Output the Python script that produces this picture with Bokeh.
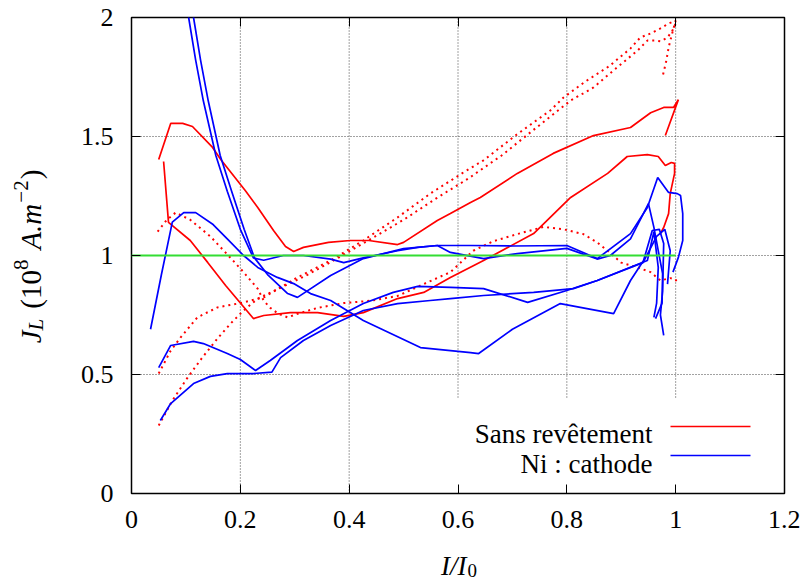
import math
from bokeh.plotting import figure
from bokeh.layouts import row, column
from bokeh.models import Range1d, LinearAxis, FixedTicker, CustomJSTickFormatter, Label
from bokeh.embed import file_html
from bokeh.resources import INLINE

# ---------------- data ----------------
x_ticks = [0, 0.2, 0.4, 0.6, 0.8, 1, 1.2]
x_tick_labels = ["0", "0.2", "0.4", "0.6", "0.8", "1", "1.2"]
y_ticks = [0, 0.5, 1, 1.5, 2]
y_tick_labels = ["0", "0.5", "1", "1.5", "2"]
grid_x = [0.2, 0.4, 0.6, 0.8, 1.0]
grid_y = [0.5, 1.0, 1.5]

red_solid_1_x = [0.050, 0.072, 0.094, 0.112, 0.149, 0.164, 0.209, 0.232, 0.261, 0.283, 0.298, 0.316, 0.362, 0.402, 0.436,
                 0.489, 0.500, 0.562, 0.586, 0.623, 0.641, 0.709, 0.775, 0.849, 0.917, 0.954, 0.978, 0.996, 1.005, 0.981]
red_solid_1_y = [1.403, 1.555, 1.555, 1.542, 1.454, 1.403, 1.273, 1.202, 1.105, 1.038, 1.017, 1.034, 1.055, 1.063, 1.063,
                 1.046, 1.055, 1.147, 1.176, 1.223, 1.244, 1.345, 1.429, 1.504, 1.538, 1.600, 1.622, 1.622, 1.655, 1.504]

red_solid_2_x = [0.059, 0.068, 0.108, 0.140, 0.173, 0.224, 0.243, 0.292, 0.342, 0.390, 0.426, 0.489, 0.537, 0.586, 0.647,
                 0.739, 0.807, 0.875, 0.911, 0.948, 0.968, 0.981, 0.992, 0.998, 0.998, 0.990, 0.987, 0.978, 0.972]
red_solid_2_y = [1.395, 1.139, 1.063, 0.971, 0.874, 0.735, 0.748, 0.760, 0.760, 0.744, 0.760, 0.819, 0.845, 0.908, 0.979,
                 1.092, 1.244, 1.345, 1.416, 1.424, 1.416, 1.378, 1.391, 1.387, 1.345, 1.260, 1.176, 1.118, 1.092]

red_dot_1_x = [0.048, 0.065, 0.081, 0.108, 0.145, 0.182, 0.206, 0.232, 0.243, 0.255, 0.270, 0.287, 0.305, 0.342, 0.390,
               0.440, 0.489, 0.537, 0.586, 0.628, 0.665, 0.709, 0.757, 0.794, 0.830, 0.856, 0.880, 0.900, 0.930, 0.954,
               0.972, 0.990, 1.000, 1.003]
red_dot_1_y = [1.100, 1.150, 1.180, 1.150, 1.080, 0.990, 0.930, 0.860, 0.810, 0.780, 0.755, 0.740, 0.755, 0.780, 0.800,
               0.810, 0.830, 0.880, 0.930, 1.020, 1.060, 1.090, 1.120, 1.110, 1.090, 1.055, 1.010, 0.970, 0.950, 0.930,
               0.895, 0.905, 0.900, 0.880]

red_dot_2_x = [0.050, 0.072, 0.090, 0.121, 0.158, 0.200, 0.243, 0.305, 0.366, 0.426, 0.489, 0.549, 0.610, 0.647, 0.709,
               0.770, 0.794, 0.834, 0.877, 0.917, 0.935, 0.954, 0.972, 0.987, 1.000, 0.994, 0.987, 0.983, 0.976]
red_dot_2_y = [0.504, 0.600, 0.655, 0.740, 0.782, 0.800, 0.824, 0.908, 0.979, 1.063, 1.160, 1.260, 1.349, 1.400, 1.510,
               1.610, 1.664, 1.731, 1.794, 1.870, 1.916, 1.933, 1.954, 1.975, 1.987, 1.937, 1.874, 1.820, 1.752]

red_dot_3_x = [0.050, 0.075, 0.103, 0.130, 0.158, 0.182, 0.206, 0.232, 0.270, 0.320, 0.380, 0.440, 0.500, 0.560, 0.620,
               0.680, 0.740, 0.807, 0.849, 0.889, 0.930, 0.948, 0.963, 0.972, 0.985, 0.994, 1.000]
red_dot_3_y = [0.286, 0.390, 0.487, 0.571, 0.651, 0.714, 0.769, 0.819, 0.860, 0.915, 0.990, 1.070, 1.150, 1.240, 1.325,
               1.420, 1.530, 1.651, 1.706, 1.784, 1.861, 1.903, 1.903, 1.900, 1.916, 1.945, 1.975]

blue_1_x = [0.100, 0.105, 0.118, 0.132, 0.155, 0.176, 0.200, 0.224, 0.243, 0.279, 0.316, 0.366, 0.390, 0.426, 0.489,
            0.526, 0.562, 0.623, 0.700, 0.800, 0.856, 0.917, 0.948, 0.967, 0.987, 1.003, 1.009, 1.013, 1.013, 1.005, 0.995]
blue_1_y = [2.100, 2.000, 1.820, 1.650, 1.420, 1.270, 1.110, 0.990, 0.980, 1.000, 1.000, 0.985, 0.970, 0.990, 1.020,
            1.034, 1.042, 1.042, 1.040, 1.042, 0.987, 1.092, 1.202, 1.328, 1.265, 1.260, 1.252, 1.176, 1.063, 0.992, 0.930]

blue_2_x = [0.109, 0.114, 0.127, 0.141, 0.163, 0.184, 0.207, 0.226, 0.250, 0.287, 0.305, 0.366, 0.426, 0.500, 0.562,
            0.586, 0.647, 0.709, 0.800, 0.856, 0.880, 0.917, 0.950, 0.960, 0.969, 0.976, 0.975, 0.963]
blue_2_y = [2.100, 2.000, 1.820, 1.650, 1.420, 1.270, 1.110, 0.990, 0.920, 0.840, 0.824, 0.916, 0.987, 1.029, 1.042,
            1.013, 0.987, 1.008, 1.030, 0.985, 1.000, 1.070, 1.218, 1.118, 1.008, 0.924, 0.800, 0.735]

blue_3_x = [0.035, 0.055, 0.075, 0.096, 0.118, 0.150, 0.176, 0.206, 0.232, 0.268, 0.298, 0.329, 0.366, 0.426, 0.531,
            0.623, 0.638, 0.700, 0.788, 0.886, 0.917, 0.941, 0.957, 0.970, 0.978, 0.976, 0.972, 0.978]
blue_3_y = [0.690, 0.920, 1.140, 1.180, 1.180, 1.130, 1.070, 1.000, 0.950, 0.908, 0.882, 0.840, 0.811, 0.727, 0.613,
            0.592, 0.588, 0.690, 0.798, 0.756, 0.895, 0.979, 1.105, 1.110, 1.050, 0.850, 0.750, 0.664]

blue_4_x = [0.050, 0.072, 0.114, 0.132, 0.176, 0.200, 0.228, 0.255, 0.305, 0.366, 0.426, 0.481, 0.526, 0.586, 0.647,
            0.728, 0.800, 0.856, 0.948, 0.960, 0.968, 0.965, 0.960]
blue_4_y = [0.529, 0.622, 0.639, 0.630, 0.588, 0.563, 0.517, 0.559, 0.643, 0.727, 0.798, 0.845, 0.870, 0.866, 0.861,
            0.803, 0.853, 0.895, 0.979, 1.100, 0.950, 0.800, 0.740]

blue_5_x = [0.053, 0.072, 0.114, 0.145, 0.176, 0.224, 0.258, 0.274, 0.316, 0.366, 0.426, 0.489, 0.549, 0.586, 0.647,
            0.739, 0.812, 0.856, 0.940, 0.965, 0.980, 0.990, 0.985]
blue_5_y = [0.307, 0.378, 0.462, 0.492, 0.504, 0.504, 0.510, 0.571, 0.643, 0.706, 0.769, 0.798, 0.811, 0.819, 0.832,
            0.845, 0.861, 0.895, 0.970, 1.080, 1.110, 1.020, 0.880]

ref_x = [0.0, 1.0]
ref_y = [1.0, 1.0]

legend_labels = ["Sans revêtement", "Ni : cathode"]

# ---------------- styling / layout ----------------
RED = "#ff0000"
BLUE = "#0000ff"
GREEN = "#33dd33"
FONT = "Liberation Serif"
X0, X1, Y0, Y1 = 0.0, 1.2, 0.0, 2.0
TOTAL_W, TOTAL_H = 800, 580
LAB_W = 60                 # strip holding the y-axis title
PLOT_H = 543               # main figure height; the rest holds the x-axis title
FRAME_L, FRAME_R, FRAME_T, FRAME_B = 131, 784, 17, 493
PXX = (FRAME_R - FRAME_L) / (X1 - X0)
PXY = (FRAME_B - FRAME_T) / (Y1 - Y0)


def dx(px):
    return X0 + (px - FRAME_L) / PXX


def dy(py):
    return Y0 + (FRAME_B - py) / PXY


p = figure(width=TOTAL_W - LAB_W, height=PLOT_H, output_backend="svg", toolbar_location=None,
           x_range=Range1d(X0, X1), y_range=Range1d(Y0, Y1))
p.min_border_left = FRAME_L - LAB_W
p.min_border_right = TOTAL_W - FRAME_R
p.min_border_top = FRAME_T
p.min_border_bottom = PLOT_H - FRAME_B
p.outline_line_color = "black"
p.outline_line_width = 1.5
p.background_fill_color = "white"
p.border_fill_color = "white"
p.grid.visible = False


def style_axis(ax, ticks, labels=None):
    ax.ticker = FixedTicker(ticks=ticks)
    ax.major_tick_in = 9
    ax.major_tick_out = 0
    ax.major_tick_line_color = "black"
    ax.major_tick_line_width = 1
    ax.minor_tick_line_color = None
    ax.axis_line_color = None
    if labels is None:
        ax.formatter = CustomJSTickFormatter(code="return '';")
        ax.major_label_text_font_size = "1px"
    else:
        ax.major_label_overrides = {t: l for t, l in zip(ticks, labels)}
        ax.major_label_text_font = FONT
        ax.major_label_text_font_size = "26px"
        ax.major_label_text_color = "black"


style_axis(p.xaxis[0], x_ticks, x_tick_labels)
p.xaxis[0].major_label_standoff = 17
style_axis(p.yaxis[0], y_ticks, y_tick_labels)
p.yaxis[0].major_label_standoff = 18

top_axis = LinearAxis()
style_axis(top_axis, x_ticks)
p.add_layout(top_axis, "above")
right_axis = LinearAxis()
style_axis(right_axis, y_ticks)
p.add_layout(right_axis, "right")

# grid (gnuplot blanks the grid behind the key box)
key_left, key_top = dx(455), dy(397)
p.segment(x0=grid_x, x1=grid_x, y0=[key_top if g > key_left else Y0 for g in grid_x], y1=[Y1] * len(grid_x),
          line_color="#444444", line_width=1, line_dash="1 2")
p.segment(x0=[X0] * len(grid_y), x1=[X1] * len(grid_y), y0=grid_y, y1=grid_y,
          line_color="#444444", line_width=1, line_dash="1 2")

LW = 1.7
for xs, ys in [(red_solid_1_x, red_solid_1_y), (red_solid_2_x, red_solid_2_y)]:
    p.line(xs, ys, line_color=RED, line_width=LW)
for xs, ys in [(red_dot_1_x, red_dot_1_y), (red_dot_2_x, red_dot_2_y), (red_dot_3_x, red_dot_3_y)]:
    p.line(xs, ys, line_color=RED, line_width=2, line_dash="2 4")
for xs, ys in [(blue_1_x, blue_1_y), (blue_2_x, blue_2_y), (blue_3_x, blue_3_y), (blue_4_x, blue_4_y),
               (blue_5_x, blue_5_y)]:
    p.line(xs, ys, line_color=BLUE, line_width=LW)
p.line(ref_x, ref_y, line_color=GREEN, line_width=2.2)

# key (text right-aligned, sample to the right, as gnuplot does)
key_text_x = dx(652)
key_rows = [(legend_labels[0], RED, 433, 426), (legend_labels[1], BLUE, 463, 455)]
for txt, col, base_py, line_py in key_rows:
    p.add_layout(Label(x=key_text_x, y=dy(base_py), text=txt, text_align="right", text_baseline="alphabetic",
                       text_font=FONT, text_font_size="27px", text_color="black"))
    p.line([dx(670), dx(750)], [dy(line_py), dy(line_py)], line_color=col, line_width=LW)


def strip(w, h, xr, yr):
    f = figure(width=w, height=h, output_backend="svg", toolbar_location=None,
               x_range=xr, y_range=yr, x_axis_location=None, y_axis_location=None,
               min_border=0, min_border_left=0, min_border_right=0, min_border_top=0, min_border_bottom=0)
    f.outline_line_color = None
    f.grid.visible = False
    f.background_fill_color = "white"
    f.border_fill_color = "white"
    return f


# x title: I/I_0 (strip below the main figure; its frame is aligned with the main frame)
XS_H = TOTAL_H - PLOT_H
xs_fig = strip(TOTAL_W - LAB_W, XS_H, Range1d(X0, X1), Range1d(0, XS_H))
xt_join = dx(466)
xs_fig.add_layout(Label(x=xt_join, y=TOTAL_H - 565, text="I/I", text_align="right", text_baseline="alphabetic",
                        text_font=FONT, text_font_style="italic", text_font_size="27px", text_color="black"))
xs_fig.add_layout(Label(x=xt_join + 1 / PXX, y=TOTAL_H - 570, text="0", text_align="left",
                        text_baseline="alphabetic", text_font=FONT, text_font_size="19px", text_color="black"))

# y title: J_L (10^8 A.m^-2), rotated (strip left of the main figure)
ys_fig = strip(LAB_W, TOTAL_H, Range1d(0, LAB_W), Range1d(0, TOTAL_H))
F, S = 29, 21
roman = {"(": 0.333, ")": 0.333, "0": 0.5, "1": 0.5, "2": 0.5, "8": 0.5, ".": 0.25, "\u2212": 0.564}
italic = {"J": 0.444, "L": 0.556, "A": 0.611, "m": 0.722, ".": 0.25}
# (text, style, size, baseline shift in px (+ = lower), gap after in px)
pieces = [("J", "italic", F, 0, 0), ("L", "italic", S, 5, 10), ("(10", "normal", F, 0, 0),
          ("8", "normal", S, -10, 10), ("A.m", "italic", F, 0, 1), ("\u22122", "normal", S, -10, 1),
          (")", "normal", F, 0, 0)]


def width(t, style, size):
    table = italic if style == "italic" else roman
    return sum(table.get(c, 0.5) for c in t) * size


total = sum(width(t, s, z) + g for t, s, z, _, g in pieces)
cur = 256 + total / 2
base_px = 30
for t, s, z, shift, gap in pieces:
    ys_fig.add_layout(Label(x=base_px + shift, y=TOTAL_H - cur, text=t, angle=math.pi / 2, angle_units="rad",
                            text_align="left", text_baseline="alphabetic", text_font=FONT, text_font_style=s,
                            text_font_size=f"{z}px", text_color="black"))
    cur -= width(t, s, z) + gap

layout = row(ys_fig, column(p, xs_fig, spacing=0), spacing=0)
open("out.html", "w").write(file_html(layout, INLINE))
